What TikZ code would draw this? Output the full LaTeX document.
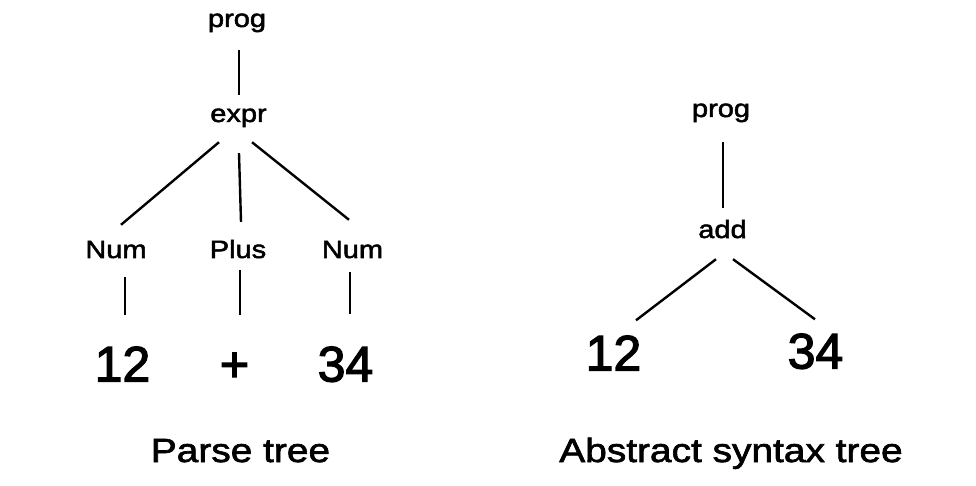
\documentclass[tikz,border=0pt]{standalone}
\usepackage{fontspec}
\newfontfamily\treefont[FakeStretch=1.16,FakeBold=2]{Liberation Sans}
\newfontfamily\digitfont[FakeBold=2.5]{Liberation Sans}
\usepackage{tikz}

\begin{document}
\begin{tikzpicture}[
    x=1pt,y=-1pt,
    lbl/.style={font=\treefont\fontsize{25}{30}\selectfont,inner sep=0pt,
                text height=18pt,text depth=5pt},
    leaf/.style={font=\digitfont\fontsize{50}{60}\selectfont,inner sep=0pt,
                text height=36pt,text depth=0pt},
    treetitle/.style={font=\treefont\fontsize{33.5}{40}\selectfont,inner sep=0pt,
                text height=24pt,text depth=0pt},
    link/.style={line width=2.4pt},
  ]
    \useasboundingbox (0,0) rectangle (976,486);
    \node[lbl] (prog) at (237,20.5) {prog};
    \node[lbl] (expr) at (238.5,115.5) {expr};
    \node[lbl] (numL) at (116,251.5) {Num};
    \node[lbl] (plus) at (238,251.5) {Plus};
    \node[lbl] (numR) at (352.5,251.5) {Num};
    \node[leaf] (twelve) at (122.5,363.5) {12};
    \node[leaf] (plussign) at (234.5,363.5) {+};
    \node[leaf] (thirtyfour) at (345.5,363.5) {34};
    \node[treetitle] (PT) at (240.5,450) {Parse tree};
    \draw[link] ([xshift=2pt,yshift=-18pt]prog.south) -- ([xshift=0.5pt,yshift=9pt]expr.north);
    \draw[link] ([xshift=-19.5pt,yshift=-15pt]expr.south) -- ([xshift=5pt,yshift=15pt]numL.north);
    \draw[link] ([xshift=0.5pt,yshift=-26pt]expr.south) -- ([xshift=3pt,yshift=18pt]plus.north);
    \draw[link] ([xshift=13.5pt,yshift=-15pt]expr.south) -- ([xshift=-3.5pt,yshift=20pt]numR.north);
    \draw[link] ([xshift=9pt,yshift=-14pt]numL.south) -- ([xshift=2.5pt,yshift=30pt]twelve.north);
    \draw[link] ([xshift=2pt,yshift=-7pt]plus.south) -- ([xshift=5.5pt,yshift=30pt]plussign.north);
    \draw[link] ([xshift=-2.5pt,yshift=-9pt]numR.south) -- ([xshift=4.5pt,yshift=31pt]thirtyfour.north);
    \node[lbl] (progB) at (721,110.5) {prog};
    \node[lbl] (add) at (722.5,231.5) {add};
    \node[leaf] (twelveB) at (613.5,352.5) {12};
    \node[leaf] (thirtyfourB) at (815.5,350.5) {34};
    \node[treetitle] (AST) at (731,450) {Abstract syntax tree};
    \draw[link] ([xshift=2pt,yshift=-20pt]progB.south) -- ([xshift=0.5pt,yshift=12pt]add.north);
    \draw[link] ([xshift=-6.5pt,yshift=-16pt]add.south) -- ([xshift=22.5pt,yshift=14pt]twelveB.north);
    \draw[link] ([xshift=10.5pt,yshift=-16pt]add.south) -- ([xshift=-0.5pt,yshift=13pt]thirtyfourB.north);
  \end{tikzpicture}
\end{document}
